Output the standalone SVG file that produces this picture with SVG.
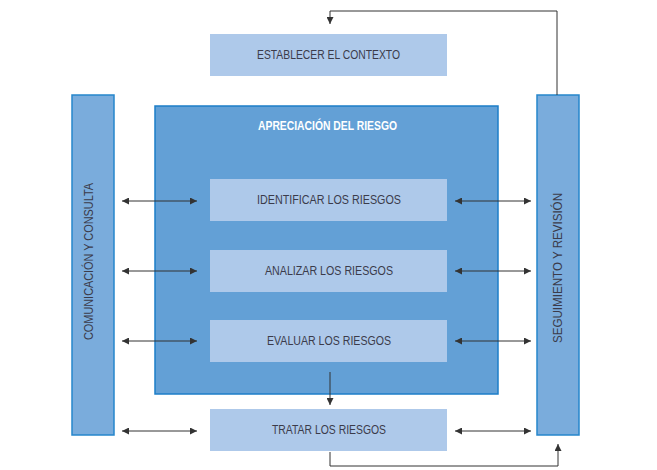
<svg xmlns="http://www.w3.org/2000/svg" width="657" height="470" viewBox="0 0 657 470">
  <style>
    .side { fill: #7aacdc; stroke: #2686cc; stroke-width: 1.5; }
    .big { fill: #63a0d6; stroke: #1c7ec8; stroke-width: 1.5; }
    .step { fill: #aec9ea; }
    .lbl { font-family: "Liberation Sans", Arial, sans-serif; font-size: 12px; fill: #3b3b4a; text-anchor: middle; }
    .title { font-family: "Liberation Sans", Arial, sans-serif; font-size: 12px; font-weight: bold; fill: #ffffff; text-anchor: middle; }
    .conn { fill: none; stroke: #333333; stroke-width: 1; }
  </style>
  <defs>
    <marker id="ah" viewBox="0 0 10 10" refX="10" refY="5" markerWidth="7" markerHeight="7" markerUnits="userSpaceOnUse" orient="auto-start-reverse">
      <path d="M0,0 L10,5 L0,10 z" fill="#333333"/>
    </marker>
  </defs>
  <rect width="657" height="470" fill="#ffffff"/>

  <g id="comunicacion">
    <rect class="side" x="72" y="95" width="42" height="340"/>
    <text class="lbl" transform="translate(93,261.5) rotate(-90)" textLength="157" lengthAdjust="spacingAndGlyphs">COMUNICACIÓN Y CONSULTA</text>
  </g>
  <g id="seguimiento">
    <rect class="side" x="537" y="95" width="42" height="340"/>
    <text class="lbl" transform="translate(562,268) rotate(-90)" textLength="150" lengthAdjust="spacingAndGlyphs">SEGUIMIENTO Y REVISIÓN</text>
  </g>
  <g id="apreciacion">
    <rect class="big" x="155" y="106" width="343" height="288"/>
    <text class="title" x="327.5" y="130" textLength="139" lengthAdjust="spacingAndGlyphs">APRECIACIÓN DEL RIESGO</text>
  </g>
  <g id="establecer">
    <rect class="step" x="210" y="34" width="237" height="42"/>
    <text class="lbl" x="328.5" y="59" textLength="143" lengthAdjust="spacingAndGlyphs">ESTABLECER EL CONTEXTO</text>
  </g>
  <g id="identificar">
    <rect class="step" x="210" y="179" width="237" height="42"/>
    <text class="lbl" x="329" y="204" textLength="144" lengthAdjust="spacingAndGlyphs">IDENTIFICAR LOS RIESGOS</text>
  </g>
  <g id="analizar">
    <rect class="step" x="210" y="250" width="237" height="42"/>
    <text class="lbl" x="329" y="275" textLength="128" lengthAdjust="spacingAndGlyphs">ANALIZAR LOS RIESGOS</text>
  </g>
  <g id="evaluar">
    <rect class="step" x="210" y="320" width="237" height="42"/>
    <text class="lbl" x="329" y="345" textLength="124" lengthAdjust="spacingAndGlyphs">EVALUAR LOS RIESGOS</text>
  </g>
  <g id="tratar">
    <rect class="step" x="210" y="409" width="237" height="42"/>
    <text class="lbl" x="329" y="434" textLength="114" lengthAdjust="spacingAndGlyphs">TRATAR LOS RIESGOS</text>
  </g>

  <g id="connectors">
    <path class="conn" d="M557,95 V11 H330 V24" marker-end="url(#ah)"/>
    <path class="conn" d="M330,372 V405" marker-end="url(#ah)"/>
    <path class="conn" d="M330,452 V466 H558 V444" marker-end="url(#ah)"/>
    <line class="conn" x1="122" y1="201" x2="197" y2="201" marker-start="url(#ah)" marker-end="url(#ah)"/>
    <line class="conn" x1="122" y1="271" x2="197" y2="271" marker-start="url(#ah)" marker-end="url(#ah)"/>
    <line class="conn" x1="122" y1="341" x2="197" y2="341" marker-start="url(#ah)" marker-end="url(#ah)"/>
    <line class="conn" x1="122" y1="431" x2="197" y2="431" marker-start="url(#ah)" marker-end="url(#ah)"/>
    <line class="conn" x1="455" y1="201" x2="531" y2="201" marker-start="url(#ah)" marker-end="url(#ah)"/>
    <line class="conn" x1="455" y1="271" x2="531" y2="271" marker-start="url(#ah)" marker-end="url(#ah)"/>
    <line class="conn" x1="455" y1="341" x2="531" y2="341" marker-start="url(#ah)" marker-end="url(#ah)"/>
    <line class="conn" x1="455" y1="431" x2="531" y2="431" marker-start="url(#ah)" marker-end="url(#ah)"/>
  </g>
</svg>
